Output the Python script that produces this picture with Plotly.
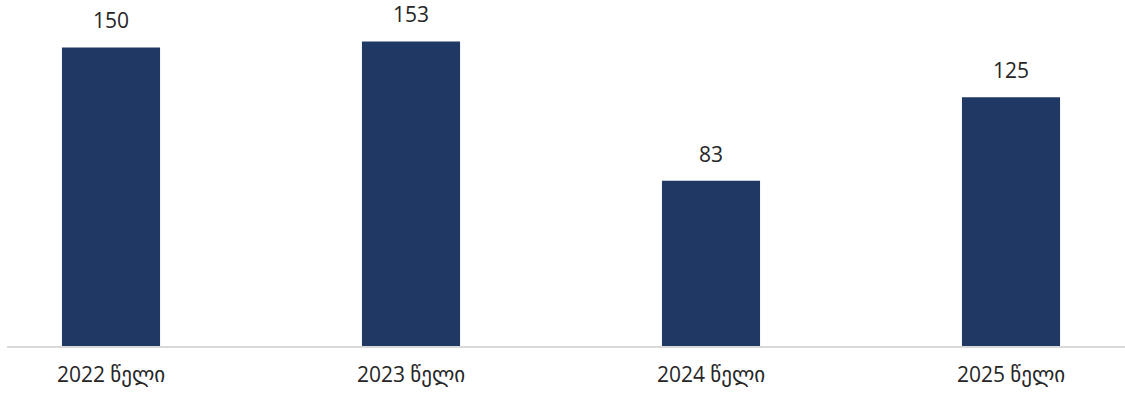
import plotly.graph_objects as go

categories = ["2022 წელი", "2023 წელი", "2024 წელი", "2025 წელი"]
values = [150, 153, 83, 125]
labels = ["150", "153", "83", "125"]

BAR = "#1f3864"
FONT = "Open Sans, DejaVu Sans, sans-serif"

fig = go.Figure()
fig.add_trace(go.Bar(
    x=categories, y=values, marker=dict(color=BAR, line=dict(width=0)),
    width=0.327, hoverinfo="skip",
))
for c, v, t in zip(categories, values, labels):
    fig.add_annotation(x=c, y=v, text=t, showarrow=False, yanchor="bottom",
                       yshift=11, font=dict(size=21, color="#262626", family=FONT))

fig.update_layout(
    width=1125, height=393,
    margin=dict(l=7, r=0, t=10, b=47),
    paper_bgcolor="white", plot_bgcolor="white",
    showlegend=False,
    xaxis=dict(range=[-0.3467, 3.38], showline=True, linecolor="#d9d9d9", linewidth=2,
               ticks="outside", ticklen=9, tickcolor="rgba(0,0,0,0)",
               tickfont=dict(size=21, color="#262626", family=FONT), showgrid=False),
    yaxis=dict(range=[0, 168.8], visible=False, showgrid=False, zeroline=False),
)
fig.write_html("out.html", config={"displayModeBar": False},
               post_script="document.body.style.margin='0';")
